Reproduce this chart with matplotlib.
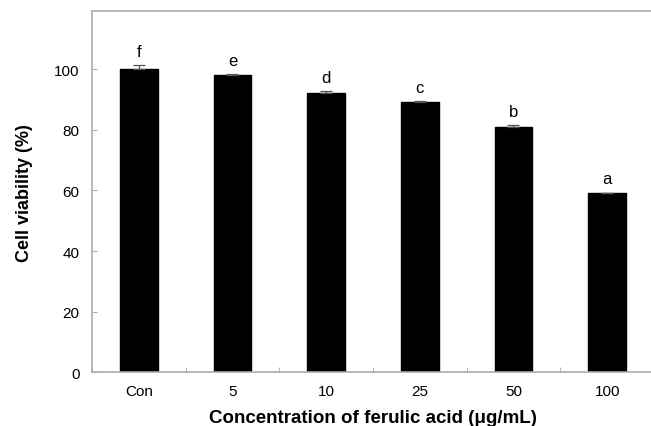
import numpy as np
import matplotlib
matplotlib.use('Agg')
import matplotlib.pyplot as plt

plt.rcParams['font.family'] = ['Liberation Sans', 'DejaVu Sans']

# 数据
categories = ['Con', '5', '10', '25', '50', '100']
viability = [100, 98, 92, 89, 81, 59]
errors = [1.2, 0.5, 0.6, 0.3, 0.4, 0.3]
letters = ['f', 'e', 'd', 'c', 'b', 'a']

fig = plt.figure(figsize=(6.51, 4.27), dpi=100)
# 右边框在图外（参考图中看不到）
ax = fig.add_axes([0.1413, 0.1255, 0.8633, 0.8455])

x = np.arange(len(categories))
ax.bar(x, viability, width=0.40, color='black', edgecolor='black',
       yerr=[[0] * len(errors), errors], capsize=4,
       error_kw=dict(ecolor='#555555', elinewidth=0.9, capthick=0.9))

for xi, v, e, lab in zip(x, viability, errors, letters):
    ax.text(xi, v + e + 2.0, lab, ha='center', va='bottom', fontsize=12)

ax.set_xlim(-0.5, len(categories) - 0.5)
ax.set_ylim(0, 119)
ax.set_yticks([0, 20, 40, 60, 80, 100])

# x轴刻度放在类别之间
ax.set_xticks(x)
ax.set_xticklabels(categories, fontsize=11)
ax.set_xticks(np.arange(len(categories) + 1) - 0.5, minor=True)
ax.tick_params(axis='x', which='major', length=0, pad=8.5)
ax.tick_params(axis='x', which='minor', length=3.5, color='#aaaaaa', direction='in')
ax.tick_params(axis='y', labelsize=11, length=3.5, color='#aaaaaa', direction='in', pad=9)

for s in ax.spines.values():
    s.set_color('#aaaaaa')
    s.set_linewidth(1.2)

ax.set_ylabel('Cell viability (%)', fontsize=13, fontweight='bold', labelpad=15)
ax.set_xlabel('Concentration of ferulic acid (\u03bcg/mL)', fontsize=13.5, fontweight='bold', labelpad=8)

fig.savefig('out.png', dpi=100)
